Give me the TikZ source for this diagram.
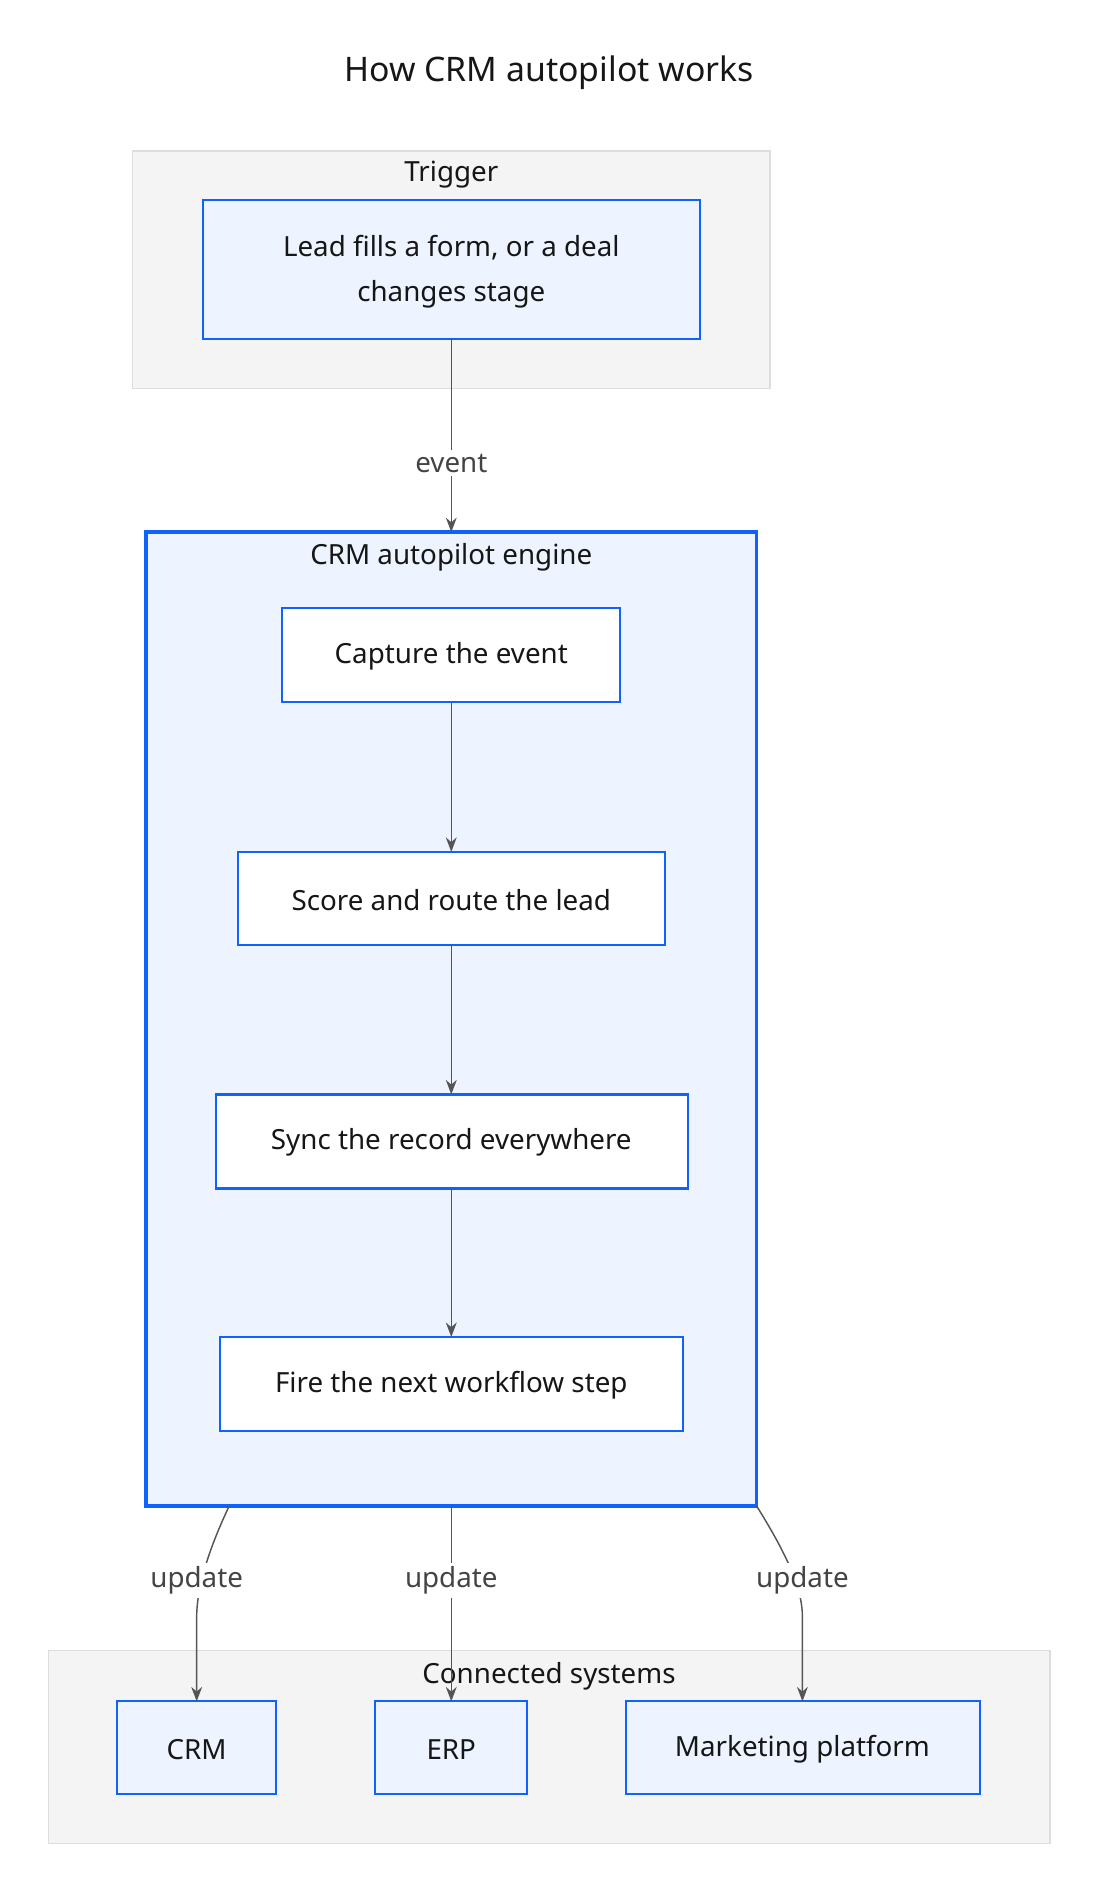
\documentclass[tikz,border=0pt]{standalone}
\usepackage{fontspec}
\setmainfont{Noto Sans}
\usetikzlibrary{arrows.meta}
\definecolor{blu}{HTML}{0F62FE}
\definecolor{lb}{HTML}{EDF4FF}
\definecolor{gr}{HTML}{F4F4F4}
\definecolor{grs}{HTML}{DDDDDD}
\definecolor{ln}{HTML}{555555}
\definecolor{tx}{HTML}{161616}
\begin{document}
\begin{tikzpicture}[x=1pt,y=-1pt,
  grp/.style={fill=gr,draw=grs,line width=1.2pt},
  stepbox/.style={draw=blu,line width=1.8pt,fill=white},
  sysbox/.style={draw=blu,line width=1.5pt,fill=lb},
  lbl/.style={font=\fontsize{23}{37}\selectfont,text=tx},
  elbl/.style={font=\fontsize{23}{28}\selectfont,text=ln!80!black,fill=white,inner sep=3pt},
  arr/.style={draw=ln,line width=1.2pt,-{Stealth[length=12pt,width=9pt]}}]
\useasboundingbox (0,0) rectangle (910,1568);
\node[font=\fontsize{28}{32}\selectfont,text=tx] (title) at (455,60) {How CRM autopilot works};
% trigger
\draw[grp] (110,125) rectangle (638,322);
\node[lbl] (tl) at (374,145) {Trigger};
\draw[sysbox] (168,166) rectangle (580,281);
\node[lbl,align=center] (lead) at (374,225) {Lead fills a form, or a deal\\changes stage};
\coordinate (leadb) at (374,281);
% engine
\draw[fill=lb,draw=blu,line width=3pt] (121,441) rectangle (627,1248);
\coordinate (engt) at (374,441);
\node[lbl] (el) at (374,462) {CRM autopilot engine};
\draw[stepbox] (234,504) rectangle (514,582);
\node[lbl] (cap) at (374,544) {Capture the event};
\draw[stepbox] (197,706) rectangle (551,783);
\node[lbl] (score) at (374,746) {Score and route the lead};
\draw[stepbox] (179,907) rectangle (570,985);
\node[lbl] (sync) at (374,947) {Sync the record everywhere};
\draw[stepbox] (182,1108) rectangle (566,1186);
\node[lbl] (fire) at (374,1148) {Fire the next workflow step};
\coordinate (capb) at (374,582); \coordinate (scoret) at (374,706);
\coordinate (scoreb) at (374,783); \coordinate (synct) at (374,907);
\coordinate (syncb) at (374,985); \coordinate (firet) at (374,1108);
\draw[arr] (capb) -- (scoret);
\draw[arr] (scoreb) -- (synct);
\draw[arr] (syncb) -- (firet);
\draw[arr] (leadb) -- (engt);
\node[elbl] (ev) at (374,384) {event};
% connected
\draw[grp] (40,1368) rectangle (870,1528);
\node[lbl] (cs) at (455,1389) {Connected systems};
\draw[sysbox] (97,1410) rectangle (229,1487);
\node[lbl] (crm) at (163,1450) {CRM};
\draw[sysbox] (311,1410) rectangle (437,1487);
\node[lbl] (erp) at (374,1450) {ERP};
\draw[sysbox] (519,1410) rectangle (812,1487);
\node[lbl] (mkt) at (665,1450) {Marketing platform};
\coordinate (e1) at (190,1248); \coordinate (e2) at (374,1248); \coordinate (e3) at (627,1248);
\coordinate (crmt) at (163,1410); \coordinate (erpt) at (374,1410); \coordinate (mktt) at (665,1410);
\draw[arr] (e1) .. controls (170,1290) and (163,1320) .. (163,1340) -- (crmt);
\draw[arr] (e2) -- (erpt);
\draw[arr] (e3) .. controls (650,1285) and (665,1315) .. (665,1340) -- (mktt);
\node[elbl] (u1) at (163,1310) {update};
\node[elbl] (u2) at (374,1310) {update};
\node[elbl] (u3) at (665,1310) {update};
\end{tikzpicture}
\end{document}
